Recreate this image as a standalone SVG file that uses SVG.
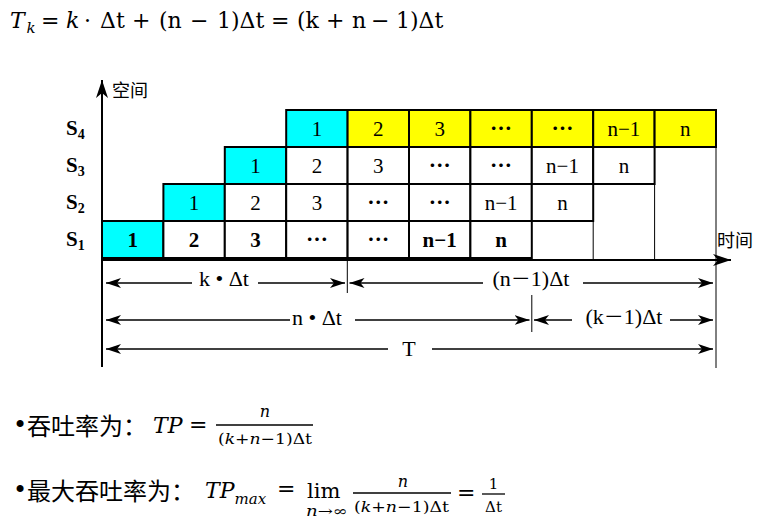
<svg xmlns="http://www.w3.org/2000/svg" width="768" height="528" viewBox="0 0 768 528">
<defs>
<style>
.cell{stroke:#000;stroke-width:2}
.w{fill:#fff}.c{fill:#00ffff}.y{fill:#ffff00}
.t{font-family:"Liberation Serif",serif;font-size:21px;text-anchor:middle;fill:#000}
.b{font-weight:bold}
.el{font-family:"Noto Sans CJK SC",sans-serif;font-size:22px;font-weight:bold;text-anchor:middle;fill:#000}
.sl{font-family:"Liberation Serif",serif;font-weight:bold;font-size:21px}
.cj{font-family:"Noto Sans CJK SC",sans-serif;fill:#000}
.m{font-family:"DejaVu Serif",serif;fill:#000}
.i{font-style:italic}
.thin{stroke:#000;stroke-width:1;fill:none}
.dim{stroke:#000;stroke-width:1.3;fill:none;marker-end:url(#ah)}
.dt{font-family:"Liberation Serif",serif;font-size:22px;text-anchor:middle;fill:#000}
</style>
<marker id="ah" markerWidth="16" markerHeight="12" refX="15" refY="6" orient="auto" markerUnits="userSpaceOnUse"><path d="M0,1 L15,6 L0,11 L4,6 Z" fill="#000"/></marker>
<marker id="axh" markerWidth="20" markerHeight="14" refX="18" refY="7" orient="auto" markerUnits="userSpaceOnUse"><path d="M0,1 L18,7 L0,13 L5,7 Z" fill="#000"/></marker>
</defs>
<rect width="768" height="528" fill="#fff"/>

<text id="title" class="m" y="28" font-size="22"><tspan class="i" x="10">T</tspan><tspan class="i" x="26.5" y="33" font-size="15">k</tspan><tspan x="41" y="28">=</tspan><tspan class="i" x="66">k</tspan><tspan x="84">·</tspan><tspan x="100">Δt</tspan><tspan x="132">+</tspan><tspan x="159">(n</tspan><tspan x="190">−</tspan><tspan x="217">1)Δt</tspan><tspan x="271">=</tspan><tspan x="297">(k</tspan><tspan x="326">+</tspan><tspan x="352">n</tspan><tspan x="371">−</tspan><tspan x="396">1)Δt</tspan></text>

<!-- row S4 -->
<g id="s4-1"><rect class="cell c" x="286.2" y="110" width="61.4" height="37"/><text class="t" x="316.9" y="136">1</text></g>
<g id="s4-2"><rect class="cell y" x="347.6" y="110" width="61.4" height="37"/><text class="t" x="378.3" y="136">2</text></g>
<g id="s4-3"><rect class="cell y" x="409" y="110" width="61.4" height="37"/><text class="t" x="439.7" y="136">3</text></g>
<g id="s4-4"><rect class="cell y" x="470.4" y="110" width="61.4" height="37"/><text class="el" x="501.1" y="136">…</text></g>
<g id="s4-5"><rect class="cell y" x="531.8" y="110" width="61.4" height="37"/><text class="el" x="562.5" y="136">…</text></g>
<g id="s4-6"><rect class="cell y" x="593.2" y="110" width="61.4" height="37"/><text class="t" x="623.9" y="136">n−1</text></g>
<g id="s4-7"><rect class="cell y" x="654.6" y="110" width="61.4" height="37"/><text class="t" x="685.3" y="136">n</text></g>
<!-- row S3 -->
<g id="s3-1"><rect class="cell c" x="224.8" y="147" width="61.4" height="37"/><text class="t" x="255.5" y="173">1</text></g>
<g id="s3-2"><rect class="cell w" x="286.2" y="147" width="61.4" height="37"/><text class="t" x="316.9" y="173">2</text></g>
<g id="s3-3"><rect class="cell w" x="347.6" y="147" width="61.4" height="37"/><text class="t" x="378.3" y="173">3</text></g>
<g id="s3-4"><rect class="cell w" x="409" y="147" width="61.4" height="37"/><text class="el" x="439.7" y="173">…</text></g>
<g id="s3-5"><rect class="cell w" x="470.4" y="147" width="61.4" height="37"/><text class="el" x="501.1" y="173">…</text></g>
<g id="s3-6"><rect class="cell w" x="531.8" y="147" width="61.4" height="37"/><text class="t" x="562.5" y="173">n−1</text></g>
<g id="s3-7"><rect class="cell w" x="593.2" y="147" width="61.4" height="37"/><text class="t" x="623.9" y="173">n</text></g>
<!-- row S2 -->
<g id="s2-1"><rect class="cell c" x="163.4" y="184" width="61.4" height="37"/><text class="t" x="194.1" y="210">1</text></g>
<g id="s2-2"><rect class="cell w" x="224.8" y="184" width="61.4" height="37"/><text class="t" x="255.5" y="210">2</text></g>
<g id="s2-3"><rect class="cell w" x="286.2" y="184" width="61.4" height="37"/><text class="t" x="316.9" y="210">3</text></g>
<g id="s2-4"><rect class="cell w" x="347.6" y="184" width="61.4" height="37"/><text class="el" x="378.3" y="210">…</text></g>
<g id="s2-5"><rect class="cell w" x="409" y="184" width="61.4" height="37"/><text class="el" x="439.7" y="210">…</text></g>
<g id="s2-6"><rect class="cell w" x="470.4" y="184" width="61.4" height="37"/><text class="t" x="501.1" y="210">n−1</text></g>
<g id="s2-7"><rect class="cell w" x="531.8" y="184" width="61.4" height="37"/><text class="t" x="562.5" y="210">n</text></g>
<!-- row S1 -->
<g id="s1-1"><rect class="cell c" x="102" y="221" width="61.4" height="37"/><text class="t b" x="132.7" y="247">1</text></g>
<g id="s1-2"><rect class="cell w" x="163.4" y="221" width="61.4" height="37"/><text class="t b" x="194.1" y="247">2</text></g>
<g id="s1-3"><rect class="cell w" x="224.8" y="221" width="61.4" height="37"/><text class="t b" x="255.5" y="247">3</text></g>
<g id="s1-4"><rect class="cell w" x="286.2" y="221" width="61.4" height="37"/><text class="el" x="316.9" y="247">…</text></g>
<g id="s1-5"><rect class="cell w" x="347.6" y="221" width="61.4" height="37"/><text class="el" x="378.3" y="247">…</text></g>
<g id="s1-6"><rect class="cell w" x="409" y="221" width="61.4" height="37"/><text class="t b" x="439.7" y="247">n−1</text></g>
<g id="s1-7"><rect class="cell w" x="470.4" y="221" width="61.4" height="37"/><text class="t b" x="501.1" y="247">n</text></g>

<g id="stage-labels">
<text class="sl" x="66" y="135">S<tspan font-size="14" dy="4">4</tspan></text>
<text class="sl" x="66" y="172">S<tspan font-size="14" dy="4">3</tspan></text>
<text class="sl" x="66" y="209">S<tspan font-size="14" dy="4">2</tspan></text>
<text class="sl" x="66" y="246">S<tspan font-size="14" dy="4">1</tspan></text>
</g>

<g id="connectors">
<line class="thin" x1="593.2" y1="221" x2="593.2" y2="259"/>
<line class="thin" x1="654.6" y1="184" x2="654.6" y2="259"/>
<line class="thin" x1="716" y1="147" x2="716" y2="368"/>
<line x1="102" y1="367" x2="102" y2="80" stroke="#000" stroke-width="2" marker-end="url(#axh)"/>
<line x1="102" y1="260" x2="731" y2="260" stroke="#000" stroke-width="2" marker-end="url(#axh)"/>
<line class="thin" x1="347.3" y1="260" x2="347.3" y2="293"/>
<line class="thin" x1="531.8" y1="295" x2="531.8" y2="332"/>
<line class="dim" x1="192" y1="283" x2="106" y2="283"/>
<line class="dim" x1="258" y1="283" x2="345" y2="283"/>
<line class="dim" x1="483" y1="283" x2="349.5" y2="283"/>
<line class="dim" x1="583" y1="283" x2="713" y2="283"/>
<line class="dim" x1="290" y1="320" x2="106" y2="320"/>
<line class="dim" x1="355" y1="320" x2="529.5" y2="320"/>
<line class="dim" x1="572" y1="320" x2="534" y2="320"/>
<line class="dim" x1="670" y1="320" x2="713" y2="320"/>
<line class="dim" x1="388" y1="349" x2="106" y2="349"/>
<line class="dim" x1="432" y1="349" x2="713" y2="349"/>
</g>

<g id="axis-labels">
<text class="cj" x="112" y="97" font-size="18">空间</text>
<text class="cj" x="717" y="247" font-size="18">时间</text>
</g>

<g id="dim-labels">
<text class="dt" x="224" y="286">k • Δt</text>
<text class="dt" x="531" y="286">(n<tspan font-family="Noto Sans CJK SC, sans-serif" font-size="20">－</tspan>1)Δt</text>
<text class="dt" x="317" y="325">n • Δt</text>
<text class="dt" x="624" y="324">(k<tspan font-family="Noto Sans CJK SC, sans-serif" font-size="20">－</tspan>1)Δt</text>
<text class="dt" x="409" y="356">T</text>
</g>

<g id="formula1">
<text class="m" x="13" y="433" font-size="24">•</text>
<text class="cj" x="27" y="435" font-size="24">吞吐率为：</text>
<text class="m i" x="153" y="433" font-size="22">TP</text>
<text class="m" x="189" y="432" font-size="22">=</text>
<line x1="216" y1="425" x2="313" y2="425" stroke="#000" stroke-width="1.3"/>
<text class="m i" x="265" y="417" font-size="16" text-anchor="middle">n</text>
<text class="m" x="218" y="444" font-size="15" textLength="94" lengthAdjust="spacingAndGlyphs">(<tspan class="i">k</tspan>+<tspan class="i">n</tspan>−1)Δt</text>
</g>

<g id="formula2">
<text class="m" x="13" y="498" font-size="24">•</text>
<text class="cj" x="27" y="500" font-size="24">最大吞吐率为：</text>
<text class="m i" x="205" y="498" font-size="22">TP<tspan font-size="15" dy="6">max</tspan></text>
<text class="m" x="277" y="496" font-size="22">=</text>
<text class="m" x="307" y="498" font-size="21">lim</text>
<text class="m" x="306" y="516" font-size="14" textLength="42" lengthAdjust="spacingAndGlyphs"><tspan class="i">n</tspan>→∞</text>
<line x1="353" y1="493" x2="451" y2="493" stroke="#000" stroke-width="1.3"/>
<text class="m i" x="403" y="487" font-size="16" text-anchor="middle">n</text>
<text class="m" x="354" y="512" font-size="15" textLength="95" lengthAdjust="spacingAndGlyphs">(<tspan class="i">k</tspan>+<tspan class="i">n</tspan>−1)Δt</text>
<text class="m" x="457" y="500" font-size="22">=</text>
<line x1="482" y1="494" x2="505" y2="494" stroke="#000" stroke-width="1.3"/>
<text class="m" x="493.5" y="489" font-size="15" text-anchor="middle">1</text>
<text class="m" x="493.5" y="512" font-size="15" text-anchor="middle">Δt</text>
</g>
</svg>
